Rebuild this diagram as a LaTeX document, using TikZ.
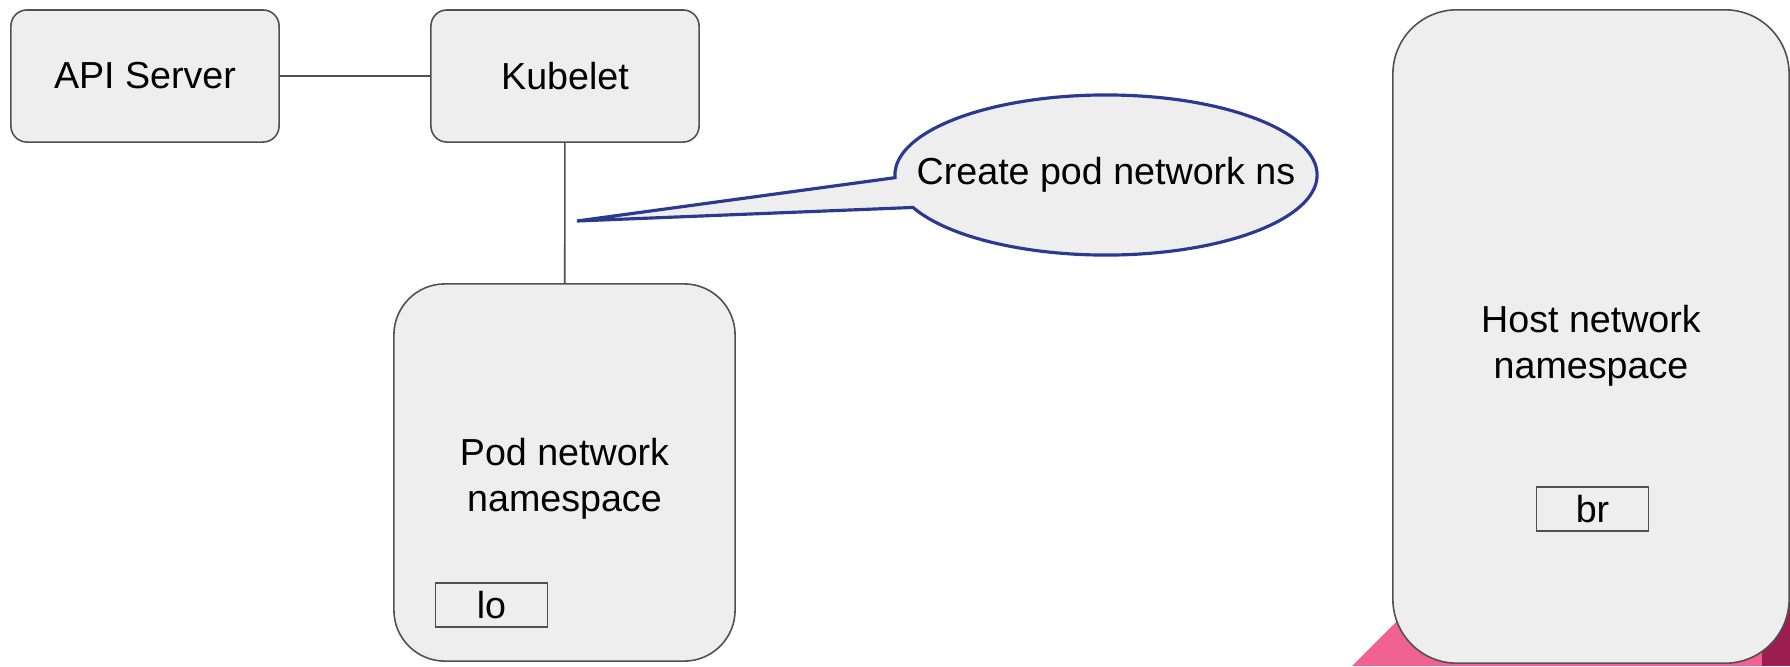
\documentclass[tikz,border=0pt]{standalone}
\usepackage{fontspec}
\setmainfont{Liberation Sans}
\usetikzlibrary{shapes.callouts}
\definecolor{boxfill}{HTML}{EEEEEE}
\definecolor{boxline}{HTML}{505050}
\definecolor{calloutline}{HTML}{2B3990}
\definecolor{ribbonpink}{HTML}{F06292}
\definecolor{ribbondark}{HTML}{9C1E50}
\newcommand{\nslabel}[2]{\raisebox{-#1}[\height][\depth]{\begin{tabular}{@{}c@{}}#2\end{tabular}}}
\begin{document}
\begin{tikzpicture}
	[x=0.01cm,y=-0.01cm,
	font=\fontsize{10.7}{13}\selectfont,
	mybox/.style={rectangle,draw=boxline,fill=boxfill,line width=0.45pt,rounded corners=0.16cm,minimum width=2.68cm,minimum height=1.32cm},
	mynetns/.style={rectangle,draw=boxline,fill=boxfill,line width=0.45pt,align=center},
	myif/.style={rectangle,draw=boxline,fill=boxfill,line width=0.45pt,minimum width=1.12cm,minimum height=0.44cm,inner sep=0pt},
	mycallout/.style={ellipse callout,draw=calloutline,fill=boxfill,line width=0.9pt,minimum width=4.22cm,minimum height=1.6cm,callout pointer arc=22}]
	\useasboundingbox (0,0) rectangle (1790,666);
	% ribbon in the corner
	\fill[ribbonpink] (1352,666) -- (1452,566) -- (1762,566) -- (1762,666) -- cycle;
	\fill[ribbondark] (1762,566) -- (1790,566) -- (1790,666) -- (1762,666) -- cycle;
	% control plane
	\node[mybox,name=api] at (145,76) {API Server};
	\node[mybox,name=kubelet] at (565,76) {Kubelet};
	% namespaces
	\node[mynetns,name=pod,rounded corners=0.51cm,minimum width=3.41cm,minimum height=3.77cm] at (564.5,472.5) {\nslabel{0.07cm}{Pod network\\namespace}};
	\node[mynetns,name=host,rounded corners=0.64cm,minimum width=3.96cm,minimum height=6.53cm] at (1591,336.5) {\nslabel{0.1cm}{Host network\\namespace}};
	\node[myif,name=lo] at (491.5,605) {lo};
	\node[myif,name=br] at (1592.5,509) {br};
	\draw[boxline,line width=0.45pt] (api) -- (kubelet);
	\draw[boxline,line width=0.45pt] (kubelet) -- (pod);
	% note
	\coordinate (tip) at (577,221);
	\node[mycallout,name=note,callout absolute pointer={(tip)}] at (1106,175) {\makebox[0pt]{Create pod network ns}};
\end{tikzpicture}
\end{document}
